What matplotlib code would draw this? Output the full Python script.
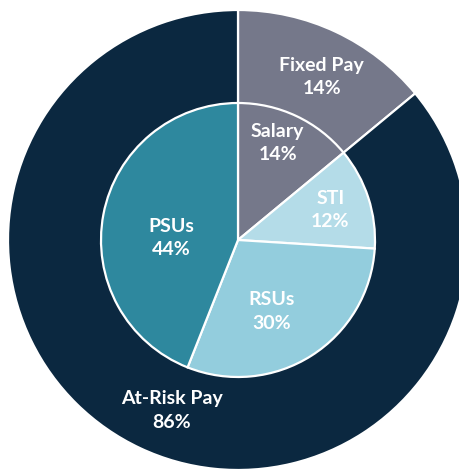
import numpy as np
import matplotlib
matplotlib.use("agg")
import matplotlib.pyplot as plt

# Datos
outer_labels = ["Fixed Pay", "At-Risk Pay"]
outer_values = [14, 86]
inner_labels = ["Salary", "STI", "RSUs", "PSUs"]
inner_values = [14, 12, 30, 44]

outer_colors = ["#75788a", "#0b2840"]
inner_colors = ["#75788a", "#b4dce8", "#93cddd", "#2e889e"]

W, H = 459, 470
cx, cy = 238, H - 240
r_out, r_in = 230, 137

plt.rcParams["font.family"] = ["Lato", "DejaVu Sans"]

fig = plt.figure(figsize=(W / 100, H / 100), dpi=100)
ax = fig.add_axes([0, 0, 1, 1])

wedge_kw = dict(edgecolor="white", linewidth=1.6)
ow, _ = ax.pie(outer_values, colors=outer_colors, radius=r_out, center=(cx, cy),
               startangle=90, counterclock=False, wedgeprops=wedge_kw, frame=True)
iw, _ = ax.pie(inner_values, colors=inner_colors, radius=r_in, center=(cx, cy),
               startangle=90, counterclock=False, wedgeprops=wedge_kw, frame=True)
ax.set_xlim(0, W)
ax.set_ylim(0, H)
ax.set_aspect("equal")
ax.axis("off")


def put_labels(wedges, labels, values, radii, shifts):
    # etiqueta centrada en el sector, con ajuste de radio/ángulo
    for w, lab, v, rr, sh in zip(wedges, labels, values, radii, shifts):
        ang = np.deg2rad((w.theta1 + w.theta2) / 2 + sh)
        x = cx + rr * np.cos(ang)
        y = cy + rr * np.sin(ang)
        ax.text(x, y, f"{lab}\n{v}%", ha="center", va="center", color="white",
                fontsize=14, fontweight="bold", linespacing=1.45)


put_labels(ow, outer_labels, outer_values, [183, 183], [-2, 4])
put_labels(iw, inner_labels, inner_values, [105, 97, 79, 67], [3, 0, -7, 9])

fig.savefig("out.png", dpi=100)
